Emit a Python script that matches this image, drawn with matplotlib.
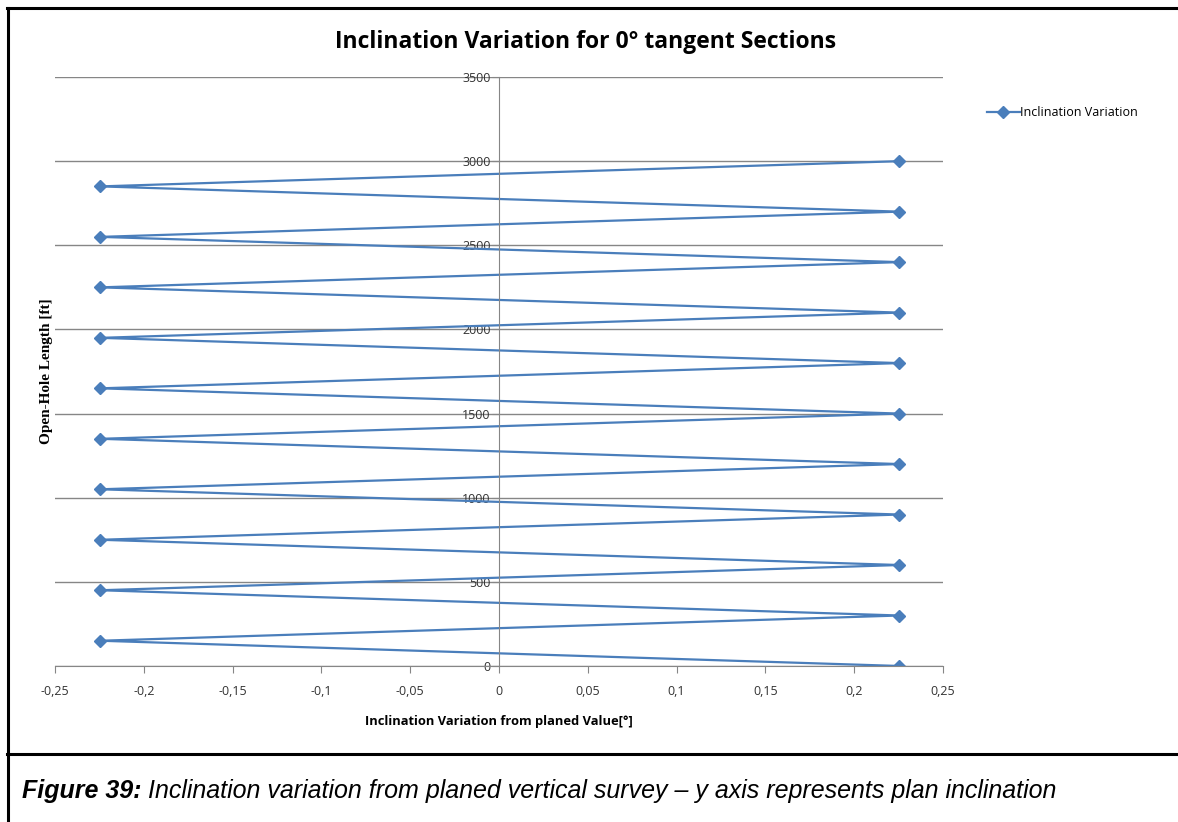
import matplotlib
matplotlib.use('Agg')
import matplotlib.pyplot as plt
from matplotlib.lines import Line2D
from matplotlib.ticker import FuncFormatter

# survey points: open-hole length [ft] and inclination variation [deg]
depth = [0, 150, 300, 450, 600, 750, 900, 1050, 1200, 1350, 1500,
         1650, 1800, 1950, 2100, 2250, 2400, 2550, 2700, 2850, 3000]
incl_var = [0.2255, -0.2245, 0.2255, -0.2245, 0.2255, -0.2245, 0.2255,
            -0.2245, 0.2255, -0.2245, 0.2255, -0.2245, 0.2255, -0.2245,
            0.2255, -0.2245, 0.2255, -0.2245, 0.2255, -0.2245, 0.2255]
x_ticks = [-0.25, -0.2, -0.15, -0.1, -0.05, 0, 0.05, 0.1, 0.15, 0.2, 0.25]
y_ticks = [0, 500, 1000, 1500, 2000, 2500, 3000, 3500]

blue = '#4a7ebb'
grid_c = '#868686'

fig = plt.figure(figsize=(11.78, 8.22), dpi=100)
ax = fig.add_axes([0.0467, 0.1898, 0.7538, 0.7165])

ax.plot(incl_var, depth, color=blue, lw=1.6, marker='D', ms=6,
        label='Inclination Variation')

ax.set_xlim(-0.25, 0.25)
ax.set_ylim(0, 3500)
ax.set_xticks(x_ticks)
ax.set_yticks(y_ticks)

def comma_fmt(v, pos):
    s = ('%g' % round(v, 4)).replace('.', ',')
    return s

ax.xaxis.set_major_formatter(FuncFormatter(comma_fmt))
ax.grid(axis='y', color=grid_c, lw=1)
ax.set_axisbelow(True)

for s in ['top', 'right']:
    ax.spines[s].set_visible(False)
ax.spines['left'].set_position(('data', 0))
ax.spines['left'].set_color(grid_c)
ax.spines['bottom'].set_color(grid_c)
ax.tick_params(axis='x', direction='out', length=5, color=grid_c,
               labelsize=9, pad=9, labelcolor='#333333')
ax.tick_params(axis='y', direction='out', length=5, color=grid_c,
               labelsize=9, pad=1, labelcolor='#333333')
for lab in ax.get_xticklabels() + ax.get_yticklabels():
    lab.set_family('Open Sans')

ax.set_xlabel('Inclination Variation from planed Value[°]', fontsize=9.3,
              fontweight='bold', family='Open Sans', labelpad=12)
ax.set_ylabel('Open-Hole Length [ft]', fontsize=11, fontweight='bold',
              family='Liberation Serif')
ax.yaxis.set_label_coords(-0.002, 0.5)

fig.text(0.497, 0.949, 'Inclination Variation for 0° tangent Sections',
         ha='center', va='center', fontsize=16.5, fontweight='bold', family='Open Sans')

ax.legend(loc='center left', bbox_to_anchor=(1.037, 0.939), frameon=False,
          handlelength=2.6, handletextpad=0.0,
          prop={'family': 'Open Sans', 'size': 9})

# report frame and caption
lw = 2.2
fig.add_artist(Line2D([0.006, 1.0], [0.990, 0.990], color='black', lw=lw))
fig.add_artist(Line2D([0.0065, 0.0065], [0.0, 0.990], color='black', lw=lw))
fig.add_artist(Line2D([0.006, 1.0], [0.083, 0.083], color='black', lw=lw))
t1 = fig.text(0.019, 0.038, 'Figure 39:', fontsize=18, fontweight='bold',
              style='italic', family='Liberation Sans', va='center')
fig.canvas.draw()
bb = t1.get_window_extent(renderer=fig.canvas.get_renderer())
x_next = (bb.x1 + 6) / fig.bbox.width
fig.text(x_next, 0.038,
         'Inclination variation from planed vertical survey \u2013 y axis represents plan inclination',
         fontsize=18, style='italic', family='Liberation Sans', va='center')

fig.savefig('out.png', dpi=100)
